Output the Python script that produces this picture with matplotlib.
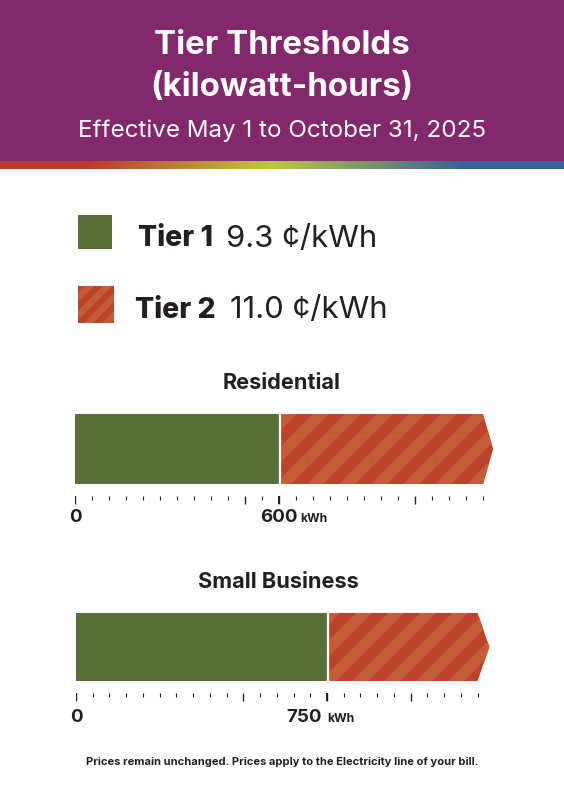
import numpy as np
import matplotlib
matplotlib.use("Agg")
import matplotlib.pyplot as plt
from matplotlib.colors import LinearSegmentedColormap
from matplotlib.patches import Polygon, Rectangle

plt.rcParams['font.family'] = ['Inter', 'DejaVu Sans']

# values
panel_names = ["Residential", "Small Business"]
thresholds = [600, 750]
bar_ends = [1200, 1200]
tip_ends = [1230, 1235]
minor_step = 50
major_ticks = [[0, 500, 600, 1000], [0, 500, 750, 1000]]
faint_grid = [[682, 871, 1059], []]
tier_names = ["Tier 1", "Tier 2"]
tier_prices = ["9.3 ¢/kWh", "11.0 ¢/kWh"]

PURPLE = "#83286b"
GREEN = "#5a7039"
RED = "#bc432b"
RED_LIGHT = "#c55c38"
INK = "#231f20"

W, H = 564, 793
fig = plt.figure(figsize=(W / 100, H / 100), dpi=100)

# whole figure axes in pixels for the header, legend and text
bg = fig.add_axes([0, 0, 1, 1])
bg.set_xlim(0, W)
bg.set_ylim(H, 0)
bg.axis("off")

bg.add_patch(Rectangle((0, 0), W, 161, color=PURPLE, lw=0))
rainbow = LinearSegmentedColormap.from_list(
    "rainbow_bar",
    [(0, "#b93a2a"), (0.15, "#b93a2a"), (0.48, "#bfc840"), (0.82, "#366396"), (1, "#366396")])
bg.imshow(np.linspace(0, 1, 564).reshape(1, -1), cmap=rainbow, aspect="auto",
          extent=(0, W, 169, 161), zorder=1)
bg.set_xlim(0, W)
bg.set_ylim(H, 0)

bg.text(282, 46, "Tier Thresholds", color="white", fontsize=23.8, fontweight="bold", ha="center", va="center")
bg.text(282, 87, "(kilowatt-hours)", color="white", fontsize=23.8, fontweight="bold", ha="center", va="center")
bg.text(282, 131, "Effective May 1 to October 31, 2025", color="white", fontsize=17.4, fontweight="normal",
        ha="center", va="center")


def stripes(ax, clip, x0, x1, y0, y1, period, phase, scale=1.0):
    # 45 degree bands, x in the axes' units, y in pixels
    h = (y1 - y0) / scale
    n = int((x1 - x0) / period) + 3
    for i in range(-n, n):
        left = phase + i * period
        band = Polygon([(left, y1), (left + period / 2, y1),
                        (left + period / 2 + h, y0), (left + h, y0)],
                       color=RED_LIGHT, lw=0, zorder=2)
        ax.add_patch(band)
        band.set_clip_path(clip)


# legend
bg.add_patch(Rectangle((78, 215), 34, 34, color=GREEN, lw=0))
swatch = Rectangle((78, 286), 36, 37, color=RED, lw=0, zorder=1)
bg.add_patch(swatch)
stripes(bg, swatch, 78, 114, 286, 323, 18, 66)
bg.text(138, 239, tier_names[0], color=INK, fontsize=20.5, fontweight=800, va="center")
bg.text(226, 239, tier_prices[0], color=INK, fontsize=22.4, fontweight="normal", va="center")
bg.text(135, 310, tier_names[1], color=INK, fontsize=20.5, fontweight=800, va="center")
bg.text(230, 310, tier_prices[1], color=INK, fontsize=22.4, fontweight="normal", va="center")

# panels: left px, px per kWh, bar top, bar bottom, tick top, title y and x, label offset
layouts = [
    dict(x0=75, sc=0.34, top=414, bot=484, tick=496, title=(282, 383), lab=518, off=0, unit=300),
    dict(x0=76, sc=0.3347, top=613, bot=681, tick=693, title=(278, 582), lab=717, off=-23, unit=327),
]

for i in range(2):
    L = layouts[i]
    xlim = tip_ends[i] + 5
    ax_w = xlim * L["sc"]
    ax = fig.add_axes([L["x0"] / W, 1 - (L["tick"] + 12) / H, ax_w / W, (L["tick"] + 12 - L["top"] + 2) / H])
    ax.set_xlim(0, xlim)
    ax.set_ylim(L["tick"] + 12, L["top"] - 2)
    ax.axis("off")
    ax.patch.set_alpha(0)

    t = thresholds[i]
    ax.add_patch(Rectangle((0, L["top"]), t, L["bot"] - L["top"], color=GREEN, lw=0))
    mid = (L["top"] + L["bot"]) / 2
    tier2 = Polygon([(t, L["top"]), (bar_ends[i], L["top"]), (tip_ends[i], mid),
                     (bar_ends[i], L["bot"]), (t, L["bot"])], color=RED, lw=0, zorder=1)
    ax.add_patch(tier2)
    stripes(ax, tier2, 0, xlim, L["top"], L["bot"], 32 / L["sc"], (339 - L["x0"]) / L["sc"] + (0 if i == 0 else 13 / L["sc"]),
            scale=L["sc"])
    ax.plot([t + 3, t + 3], [L["top"], L["bot"]], color="white", lw=1.6, zorder=3, solid_capstyle="butt")
    if faint_grid[i]:
        ax.vlines(faint_grid[i], L["top"] + 18, L["bot"], color="#bc432b", lw=0.4, alpha=0.5, zorder=3)
        ax.hlines(L["top"] + 18, t + 8, bar_ends[i], color="#bc432b", lw=0.4, alpha=0.5, zorder=3)

    # ticks
    all_ticks = np.arange(0, bar_ends[i] + 1, minor_step)
    minor = [v for v in all_ticks if v not in major_ticks[i]]
    ax.vlines(minor, L["tick"], L["tick"] + 3.5, color=INK, lw=0.8)
    ax.vlines(major_ticks[i], L["tick"], L["tick"] + 7.5, color=INK, lw=1.0)
    ax.vlines([0, t], L["tick"], L["tick"] + 7.5, color=INK, lw=1.4)

    bg.text(L["title"][0], L["title"][1], panel_names[i], color=INK, fontsize=15.6, fontweight="bold",
            ha="center", va="center")
    bg.text(L["x0"], L["lab"], "0", color=INK, fontsize=13.5, fontweight="bold", ha="center", va="center")
    bg.text(L["x0"] + t * L["sc"] + L["off"], L["lab"], str(t), color=INK, fontsize=13.5, fontweight="bold",
            ha="center", va="center")
    bg.text(L["unit"], L["lab"] + 1.5, "kWh", color=INK, fontsize=8.8, fontweight="bold", va="center")

bg.text(282, 762, "Prices remain unchanged. Prices apply to the Electricity line of your bill.",
        color=INK, fontsize=8, fontweight="bold", ha="center", va="center")

fig.savefig("out.png", dpi=100)
